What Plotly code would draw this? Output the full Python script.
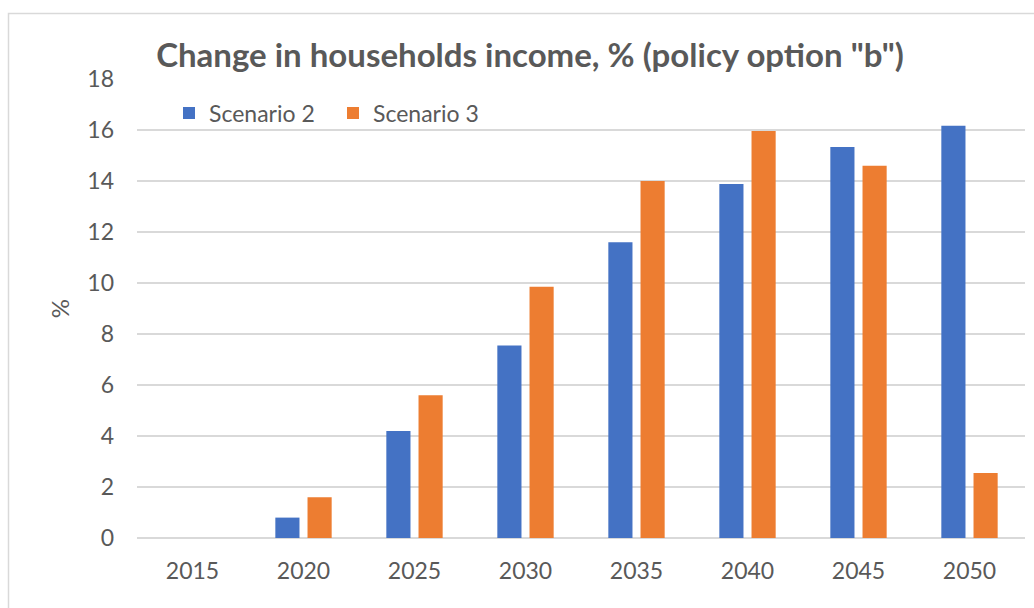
import plotly.graph_objects as go

years = ["2015", "2020", "2025", "2030", "2035", "2040", "2045", "2050"]
scenario_2 = [0, 0.8, 4.2, 7.55, 11.6, 13.88, 15.33, 16.17]
scenario_3 = [0, 1.6, 5.6, 9.85, 14.0, 15.96, 14.6, 2.55]
y_ticks = [0, 2, 4, 6, 8, 10, 12, 14, 16, 18]

TEXT = "#595959"
GRID = "#d9d9d9"
FONT = "Lato"

fig = go.Figure()
fig.add_trace(go.Bar(name="Scenario 2", x=years, y=scenario_2,
                     marker=dict(color="#4472C4", line=dict(width=0))))
fig.add_trace(go.Bar(name="Scenario 3", x=years, y=scenario_3,
                     marker=dict(color="#ED7D31", line=dict(width=0))))

W, H = 1034, 608
L, R, T, B = 137, 9, 79, 70
pw, ph = W - L - R, H - T - B

def px_to_paper_x(px):
    return (px - L) / pw

def px_to_paper_y(py):
    return (H - B - py) / ph

fig.update_layout(
    width=W, height=H,
    margin=dict(l=L, r=R, t=T, b=B),
    paper_bgcolor="white", plot_bgcolor="white",
    barmode="group", bargap=0.42, bargroupgap=0.25,
    font=dict(family=FONT, color=TEXT, size=23),
    title=dict(text='<b>Change in households income, % (policy option "b")</b>',
               font=dict(family=FONT, size=33, color=TEXT),
               x=530 / W, xanchor="center", xref="container",
               y=1 - 55 / H, yanchor="middle", yref="container"),
    legend=dict(orientation="h", x=px_to_paper_x(169), xanchor="left",
                y=px_to_paper_y(113), yanchor="middle",
                font=dict(family=FONT, size=23, color=TEXT),
                bgcolor="rgba(0,0,0,0)", itemwidth=30,
                entrywidth=119, entrywidthmode="pixels"),
    showlegend=True,
)
fig.update_xaxes(showline=False, ticks="", showgrid=False,
                 tickfont=dict(family=FONT, size=23, color=TEXT),
                 ticklabelstandoff=17)
fig.update_yaxes(range=[0, 18], tickvals=y_ticks, showgrid=True,
                 gridcolor=GRID, gridwidth=1.5, zeroline=True,
                 zerolinecolor=GRID, zerolinewidth=1.5, showline=False,
                 ticks="", tickfont=dict(family=FONT, size=23, color=TEXT),
                 ticklabelstandoff=22,
                 title=dict(text="%", font=dict(family=FONT, size=24, color=TEXT),
                            standoff=10))

# chart frame
fig.add_shape(type="rect", xref="paper", yref="paper",
              x0=px_to_paper_x(8.5), x1=px_to_paper_x(1040),
              y0=px_to_paper_y(620), y1=px_to_paper_y(13.5),
              line=dict(color=GRID, width=1.5), fillcolor="rgba(0,0,0,0)",
              layer="below")

fig.write_html("out.html")
